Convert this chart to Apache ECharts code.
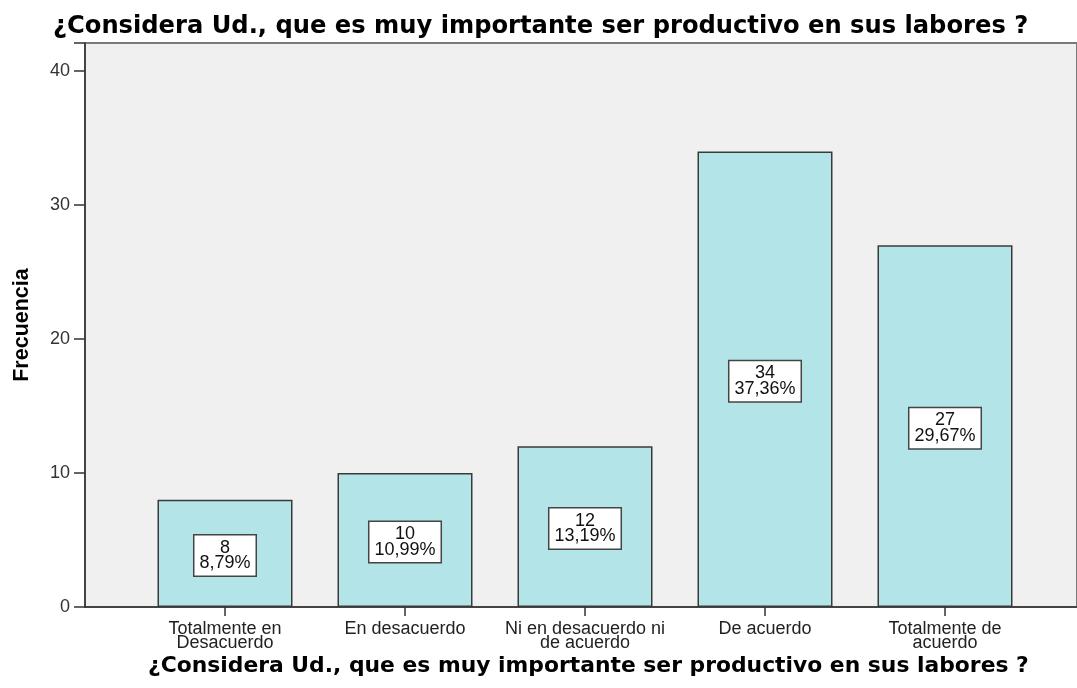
<!DOCTYPE html>
<html>
<head>
<meta charset="utf-8">
<script src="https://cdn.jsdelivr.net/npm/echarts@6/dist/echarts.min.js"></script>
<style>
html,body{margin:0;padding:0;background:#fff;}
#chart{width:1077px;height:688px;}
</style>
</head>
<body>
<div id="chart"></div>
<script>
const titleText = '¿Considera Ud., que es muy importante ser productivo en sus labores ?';
const categories = ['Totalmente en\nDesacuerdo', 'En desacuerdo', 'Ni en desacuerdo ni\nde acuerdo', 'De acuerdo', 'Totalmente de\nacuerdo'];
const counts = [8, 10, 12, 34, 27];
const yTicks = [0, 10, 20, 30, 40];
const yAxisName = 'Frecuencia';

const total = counts.reduce((a, b) => a + b, 0);
const pct = v => (v / total * 100).toFixed(2).replace('.', ',') + '%';

const chart = echarts.init(document.getElementById('chart'), null, {renderer: 'canvas'});
chart.setOption({
  animation: false,
  backgroundColor: '#ffffff',
  title: [
    {
      text: titleText,
      left: 48, top: 10,
      textStyle: {fontFamily: 'DejaVu Sans', fontWeight: 'bold', fontSize: 24.2, color: '#000'}
    },
    {
      text: titleText,
      left: 143, top: 650,
      textStyle: {fontFamily: 'DejaVu Sans', fontWeight: 'bold', fontSize: 21.85, color: '#000'}
    }
  ],
  grid: [
    {left: 85, right: -3, top: 43, bottom: 81, show: true, backgroundColor: '#f0f0f0', borderColor: '#7a7a7a', borderWidth: 2},
    {left: 135, right: 42, top: 43, bottom: 81, show: false}
  ],
  xAxis: [
    {
      gridIndex: 0, type: 'value', min: 0, max: 1,
      axisLine: {show: true, onZero: false, lineStyle: {color: '#333', width: 1.5}},
      axisTick: {show: false}, axisLabel: {show: false}, splitLine: {show: false}
    },
    {
      gridIndex: 1, type: 'category', data: categories,
      axisLine: {show: false},
      axisTick: {show: true, alignWithLabel: true, length: 9, lineStyle: {color: '#333', width: 1.5}},
      axisLabel: {margin: 15, color: '#222', fontFamily: 'Liberation Sans', fontSize: 18, lineHeight: 14, interval: 0}
    }
  ],
  yAxis: [
    {
      gridIndex: 0, type: 'value', min: 0, max: 42.1, interval: 10,
      name: yAxisName, nameLocation: 'middle', nameGap: 52,
      nameTextStyle: {fontFamily: 'Liberation Sans', fontWeight: 'bold', fontSize: 21.5, color: '#000'},
      axisLine: {show: true, lineStyle: {color: '#333', width: 1.5}},
      axisTick: {show: true, length: 11, lineStyle: {color: '#333', width: 1.5}},
      axisLabel: {margin: 15, color: '#333', fontFamily: 'Liberation Sans', fontSize: 18,
        formatter: v => yTicks.includes(v) ? String(v) : ''},
      splitLine: {show: false}
    },
    {
      gridIndex: 1, type: 'value', min: 0, max: 42.1, interval: 10, show: false
    }
  ],
  series: [{
    type: 'bar',
    xAxisIndex: 1, yAxisIndex: 1,
    data: counts,
    barCategoryGap: '25%',
    itemStyle: {color: '#b3e5e8', borderColor: '#3a3a3a', borderWidth: 1.5},
    label: {
      show: true, position: 'inside', offset: [0, 2],
      formatter: p => p.value + '\n' + pct(p.value),
      fontFamily: 'Liberation Sans', fontSize: 18, lineHeight: 15.5, color: '#111',
      backgroundColor: '#fff', borderColor: '#444', borderWidth: 1.5,
      padding: [5, 5, 4, 5], align: 'center'
    }
  }]
});
</script>
</body>
</html>
